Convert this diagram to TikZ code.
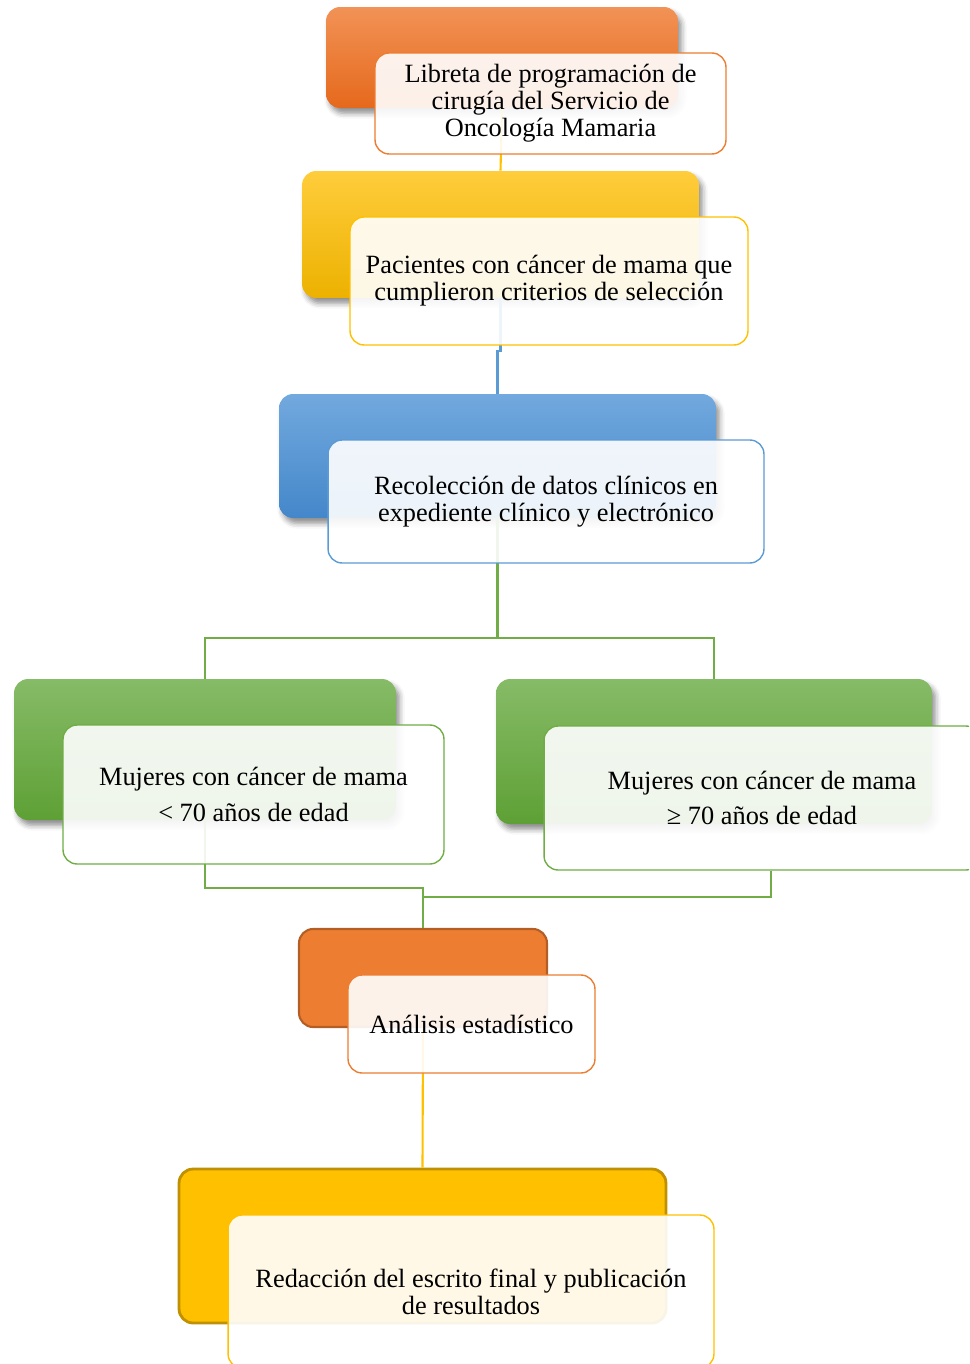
\documentclass[tikz,border=0pt]{standalone}
\usepackage{fontspec}
\setmainfont{Liberation Serif}
\usepackage{tikz}
\usetikzlibrary{shadows.blur}
\definecolor{NaranjaA}{HTML}{F29256}
\definecolor{NaranjaB}{HTML}{E5691C}
\definecolor{NaranjaC}{HTML}{ED7D31}
\definecolor{AmarilloA}{HTML}{FFCD3C}
\definecolor{AmarilloB}{HTML}{ECB100}
\definecolor{AmarilloC}{HTML}{FFC000}
\definecolor{AzulA}{HTML}{72A9DE}
\definecolor{AzulB}{HTML}{4487CA}
\definecolor{AzulC}{HTML}{5B9BD5}
\definecolor{VerdeA}{HTML}{86BB67}
\definecolor{VerdeB}{HTML}{5EA035}
\definecolor{VerdeC}{HTML}{70AD47}

\begin{document}
\begin{tikzpicture}[x=0.02cm, y=-0.02cm,
    back/.style={rounded corners=8pt, inner sep=0pt,
        blur shadow={shadow xshift=2pt, shadow yshift=-3pt, shadow blur radius=3pt, shadow opacity=45}},
    front/.style={draw=#1, line width=0.8pt, rounded corners=8pt, fill=white, fill opacity=0.9,
        text opacity=1, align=center, inner sep=0pt, font=\fontsize{15}{15.3}\selectfont},
    link/.style={draw=#1, line width=1.2pt}]
    \useasboundingbox (0,0) rectangle (969,1364);
    \clip (0,0) rectangle (969,1364);

    \node[back, top color=NaranjaA, bottom color=NaranjaB, minimum width=7.04cm, minimum height=2.02cm] (libB) at (502,57.5) {};
    \node[back, top color=AmarilloA, bottom color=AmarilloB, minimum width=7.94cm, minimum height=2.54cm] (pacB) at (500.5,234.5) {};
    \node[back, top color=AzulA, bottom color=AzulB, minimum width=8.74cm, minimum height=2.48cm] (recB) at (497.5,456) {};
    \node[back, top color=VerdeA, bottom color=VerdeB, minimum width=7.64cm, minimum height=2.82cm] (menB) at (205,749.5) {};
    \node[back, top color=VerdeA, bottom color=VerdeB, minimum width=8.72cm, minimum height=2.9cm] (mayB) at (714,751.5) {};
    \node[rounded corners=8pt, draw=NaranjaC!75!black, line width=1.2pt, fill=NaranjaC, minimum width=4.96cm, minimum height=1.96cm] (anaB) at (423,978) {};
    \node[rounded corners=8pt, draw=AmarilloC!75!black, line width=1.6pt, fill=AmarilloC, minimum width=9.74cm, minimum height=3.08cm] (redB) at (422.5,1246) {};

    \draw[link=AmarilloC] (libB.south) -- (pacB.north);
    \draw[link=AzulC] (pacB.south) -- ++(0,53) -| (recB.north);
    \draw[link=VerdeC] (recB.south) -- ++(0,120) -| (menB.north);
    \draw[link=VerdeC] (recB.south) -- ++(0,120) -| (mayB.north);
    \draw[link=VerdeC] (menB.south) -- ++(0,68) -| (anaB.north);
    \draw[link=AmarilloC] (anaB.south) -- (redB.north);

    \node[front=NaranjaC, minimum width=7.02cm, minimum height=2.02cm] (libF) at (550.5,103.5)
        {Libreta de programación de\\cirugía del Servicio de\\Oncología Mamaria};
    \node[front=AmarilloC, minimum width=7.96cm, minimum height=2.56cm] (pacF) at (549,281)
        {Pacientes con cáncer de mama que\\cumplieron criterios de selección};
    \node[front=AzulC, minimum width=8.72cm, minimum height=2.46cm] (recF) at (546,501.5)
        {Recolección de datos clínicos en\\expediente clínico y electrónico};
    \node[front=VerdeC, minimum width=7.62cm, minimum height=2.78cm, font=\fontsize{15}{20.4}\selectfont] (menF) at (253.5,794.5)
        {Mujeres con cáncer de mama\\< 70 años de edad};
    \node[front=VerdeC, minimum width=8.72cm, minimum height=2.88cm, font=\fontsize{15}{20.4}\selectfont] (mayF) at (762,798)
        {Mujeres con cáncer de mama\\≥ 70 años de edad};
    \node[front=NaranjaC, minimum width=4.94cm, minimum height=1.96cm] (anaF) at (471.5,1024)
        {Análisis estadístico};
    \node[front=AmarilloC, minimum width=9.72cm, minimum height=3.06cm] (redF) at (471,1291.5)
        {Redacción del escrito final y publicación\\de resultados};

    \draw[link=VerdeC] ([xshift=0.18cm]mayF.south) -- ++(0,26) -| (anaB.north);
\end{tikzpicture}
\end{document}
